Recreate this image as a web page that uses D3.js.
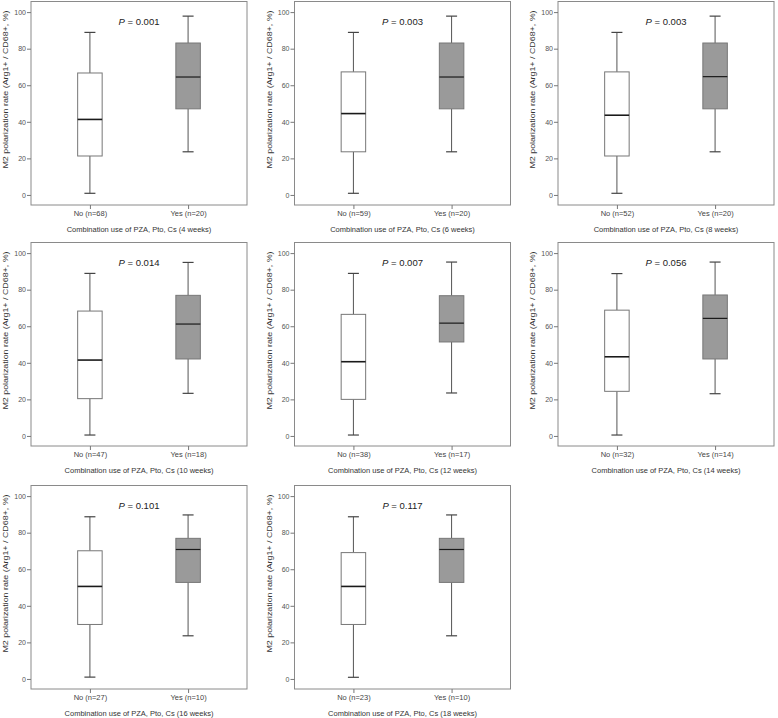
<!DOCTYPE html>
<html><head><meta charset="utf-8">
<script src="https://cdn.jsdelivr.net/npm/d3@7"></script>
<style>body{margin:0;background:#fff}svg{display:block}text{font-family:"Liberation Sans",Arial,sans-serif}</style>
</head><body><svg id="c" width="778" height="718"></svg>
<script>
const weeks = [4, 6, 8, 10, 12, 14, 16, 18];
const pValues = ["0.001", "0.003", "0.003", "0.014", "0.007", "0.056", "0.101", "0.117"];
const nNo = [68, 59, 52, 47, 38, 32, 27, 23];
const nYes = [20, 20, 20, 18, 17, 14, 10, 10];
const noMin = [0.9, 0.9, 0.9, 0.5, 0.5, 0.5, 1.0, 0.9];
const noQ1 = [21.3, 23.6, 21.3, 20.4, 20.0, 24.4, 29.8, 29.8];
const noMedian = [41.3, 44.5, 43.6, 41.5, 40.6, 43.3, 50.6, 50.6];
const noQ3 = [66.7, 67.3, 67.3, 68.3, 66.5, 68.8, 70.1, 69.1];
const noMax = [88.9, 88.9, 88.9, 88.9, 88.9, 88.8, 88.7, 88.7];
const yesMin = [23.6, 23.6, 23.6, 23.3, 23.5, 23.1, 23.6, 23.6];
const yesQ1 = [47.1, 47.1, 47.1, 42.1, 51.4, 42.1, 52.8, 52.8];
const yesMedian = [64.5, 64.5, 64.7, 61.2, 61.7, 64.3, 70.8, 70.8];
const yesQ3 = [83.1, 83.1, 83.1, 76.9, 76.7, 77.1, 76.9, 76.9];
const yesMax = [97.8, 97.8, 97.8, 94.9, 95.1, 95.1, 89.7, 89.7];
const yTicks = [0, 20, 40, 60, 80, 100];
const yLabel = "M2 polarization rate (Arg1+ / CD68+, %)";

// layout
const colLeft = [31, 294.5, 558];
const rowTop = [1.5, 242.5, 485.5];
const frameW = 216, frameH = 203.5;
const boxW = 24.5, capW = 11;

const svg = d3.select("#c");

weeks.forEach((w, i) => {
  const col = i % 3, row = Math.floor(i / 3);
  const g = svg.append("g").attr("transform", `translate(${colLeft[col]},${rowTop[row]})`);
  const cats = [`No (n=${nNo[i]})`, `Yes (n=${nYes[i]})`];
  const x = d3.scalePoint().domain(cats).range([0, frameW]).padding(0.6);
  const y = d3.scaleLinear().domain([-5.5, 105.8]).range([frameH, 0]);

  const stats = [
    {cat: cats[0], min: noMin[i], q1: noQ1[i], med: noMedian[i], q3: noQ3[i], max: noMax[i], fill: "#ffffff", mw: 1.6},
    {cat: cats[1], min: yesMin[i], q1: yesQ1[i], med: yesMedian[i], q3: yesQ3[i], max: yesMax[i], fill: "#9a9a9a", mw: 1.2}
  ];

  // frame
  g.append("rect").attr("x", 0).attr("y", 0).attr("width", frameW).attr("height", frameH)
    .attr("fill", "none").attr("stroke", "#8a8a8a").attr("stroke-width", 1);

  // y axis
  const ya = g.append("g").call(d3.axisLeft(y).tickValues(yTicks).tickSize(4).tickPadding(1));
  ya.select(".domain").remove();
  ya.selectAll("line").attr("stroke", "#777");
  ya.selectAll("text").attr("fill", "#555").attr("font-size", "7px").attr("font-family", "Liberation Sans, Arial, sans-serif");

  // x axis
  const xa = g.append("g").attr("transform", `translate(0,${frameH})`).call(d3.axisBottom(x).tickSize(4).tickPadding(2));
  xa.select(".domain").remove();
  xa.selectAll("line").attr("stroke", "#777");
  xa.selectAll("text").attr("fill", "#444").attr("font-size", "7.5px").attr("font-family", "Liberation Sans, Arial, sans-serif");

  // x title
  g.append("text").attr("x", frameW / 2).attr("y", frameH + 27).attr("text-anchor", "middle")
    .attr("font-size", "7.5px").attr("fill", "#333")
    .text(`Combination use of PZA, Pto, Cs (${w} weeks)`);

  // y title
  const yc = (y(100) + y(0)) / 2 - 14;
  g.append("text").attr("transform", `translate(-23,${yc}) rotate(-90)`).attr("text-anchor", "middle")
    .attr("font-size", "7.5px").attr("fill", "#333")
    .attr("textLength", 158).attr("lengthAdjust", "spacingAndGlyphs")
    .text(yLabel);

  // P value
  const pt = g.append("text").attr("x", frameW / 2).attr("y", 23).attr("text-anchor", "middle")
    .attr("font-size", "9.5px").attr("fill", "#222");
  pt.append("tspan").attr("font-style", "italic").text("P");
  pt.append("tspan").text(` = ${pValues[i]}`);

  // boxes
  stats.forEach(s => {
    const cx = x(s.cat);
    const bg = g.append("g");
    bg.append("line").attr("x1", cx).attr("x2", cx).attr("y1", y(s.max)).attr("y2", y(s.q3)).attr("stroke", "#555");
    bg.append("line").attr("x1", cx).attr("x2", cx).attr("y1", y(s.q1)).attr("y2", y(s.min)).attr("stroke", "#555");
    bg.append("line").attr("x1", cx - capW / 2).attr("x2", cx + capW / 2).attr("y1", y(s.max)).attr("y2", y(s.max)).attr("stroke", "#444").attr("stroke-width", 1.2);
    bg.append("line").attr("x1", cx - capW / 2).attr("x2", cx + capW / 2).attr("y1", y(s.min)).attr("y2", y(s.min)).attr("stroke", "#444").attr("stroke-width", 1.2);
    bg.append("rect").attr("x", cx - boxW / 2).attr("width", boxW).attr("y", y(s.q3)).attr("height", y(s.q1) - y(s.q3))
      .attr("fill", s.fill).attr("stroke", "#777").attr("stroke-width", 1);
    bg.append("line").attr("x1", cx - boxW / 2).attr("x2", cx + boxW / 2).attr("y1", y(s.med)).attr("y2", y(s.med))
      .attr("stroke", "#1a1a1a").attr("stroke-width", s.mw);
  });
});
</script></body></html>
